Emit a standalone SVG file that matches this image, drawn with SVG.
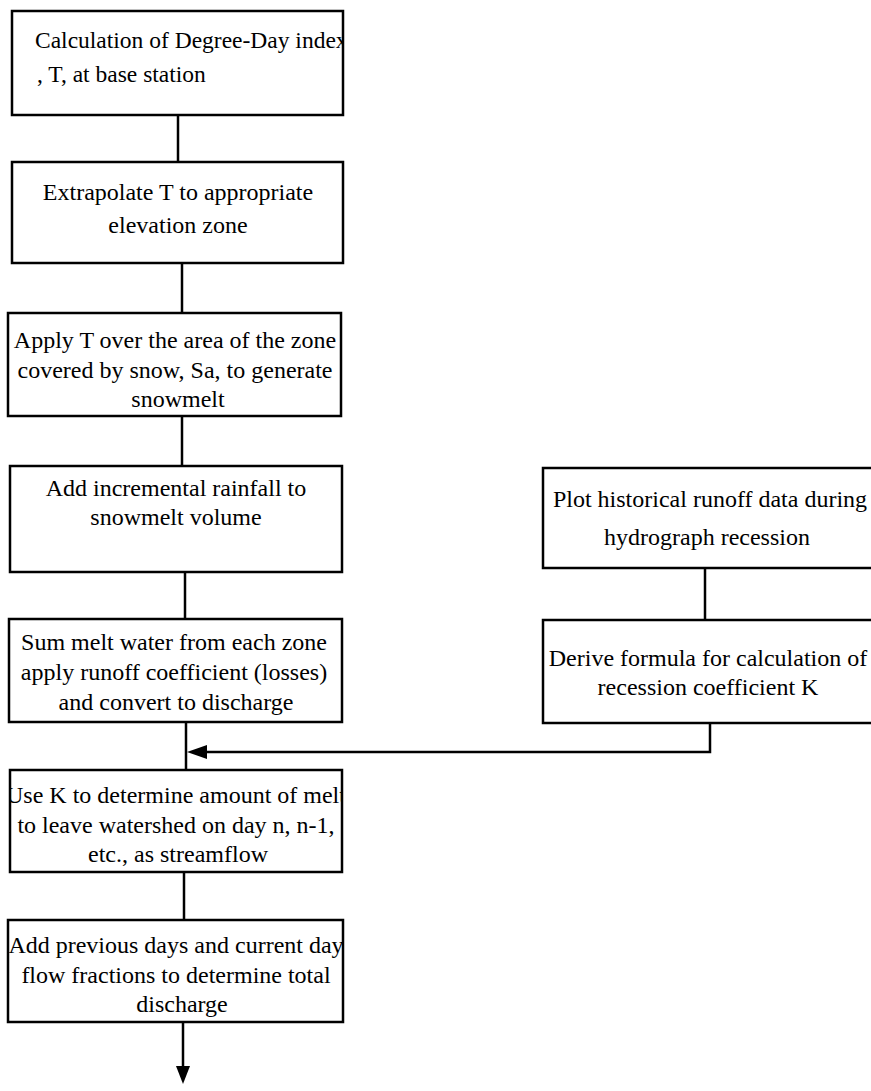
<svg xmlns="http://www.w3.org/2000/svg" width="871" height="1091" viewBox="0 0 871 1091">
<style>
.box{fill:#fff;stroke:#000;stroke-width:2.5}
.t{font-family:"Liberation Serif","Times New Roman",serif;font-size:24px;fill:#000}
.s{font-size:23.5px}
.c{text-anchor:middle}
.ln{fill:none;stroke:#000;stroke-width:2.5}
</style>
<defs>
<clipPath id="c1"><rect x="13" y="12" width="329" height="102"/></clipPath>
<clipPath id="c6"><rect x="11" y="771" width="331" height="100"/></clipPath>
<clipPath id="c7"><rect x="9" y="921" width="333" height="100"/></clipPath>
<clipPath id="cr1"><rect x="544" y="469" width="327" height="98"/></clipPath>
<clipPath id="cr2"><rect x="544" y="621" width="327" height="101"/></clipPath>
</defs>
<rect width="871" height="1091" fill="#fff"/>
<g id="connectors">
<line class="ln" x1="178" y1="115" x2="178" y2="162"/>
<line class="ln" x1="182" y1="263" x2="182" y2="313"/>
<line class="ln" x1="182" y1="416" x2="182" y2="466"/>
<line class="ln" x1="185" y1="572" x2="185" y2="619"/>
<line class="ln" x1="186" y1="722" x2="186" y2="770"/>
<line class="ln" x1="184" y1="872" x2="184" y2="920"/>
<line class="ln" x1="183" y1="1022" x2="183" y2="1068"/>
<polygon points="176,1066 190,1066 183,1084" fill="#000"/>
<line class="ln" x1="705" y1="568" x2="705" y2="620"/>
<polyline class="ln" points="710,723 710,752 200,752"/>
<polygon points="187,752 207,745 207,759" fill="#000"/>
</g>
<g id="n1">
<rect class="box" x="12" y="11" width="331" height="104"/>
<g clip-path="url(#c1)">
<text class="t s" x="35" y="48">Calculation of Degree-Day index</text>
<text class="t s" x="37" y="82">, T, at base station</text>
</g>
</g>
<g id="n2">
<rect class="box" x="12" y="162" width="331" height="101"/>
<text class="t c" x="178" y="200">Extrapolate T to appropriate</text>
<text class="t c" x="178" y="233">elevation zone</text>
</g>
<g id="n3">
<rect class="box" x="8" y="313" width="333" height="103"/>
<text class="t c" x="175" y="348">Apply T over the area of the zone</text>
<text class="t c" x="175" y="378">covered by snow, Sa, to generate</text>
<text class="t c" x="178" y="407">snowmelt</text>
</g>
<g id="n4">
<rect class="box" x="10" y="466" width="332" height="106"/>
<text class="t c" x="176" y="496">Add incremental rainfall to</text>
<text class="t c" x="176" y="525">snowmelt volume</text>
</g>
<g id="n5">
<rect class="box" x="9" y="619" width="333" height="103"/>
<text class="t c" x="174" y="650">Sum melt water from each zone</text>
<text class="t c" x="174" y="680">apply runoff coefficient (losses)</text>
<text class="t c" x="176" y="710">and convert to discharge</text>
</g>
<g id="n6">
<rect class="box" x="10" y="770" width="332" height="102"/>
<g clip-path="url(#c6)">
<text class="t c" x="176" y="803">Use K to determine amount of melt</text>
<text class="t c" x="176" y="833">to leave watershed on day n, n-1,</text>
<text class="t c" x="178" y="862">etc., as streamflow</text>
</g>
</g>
<g id="n7">
<rect class="box" x="8" y="920" width="335" height="102"/>
<g clip-path="url(#c7)">
<text class="t c" x="176" y="953">Add previous days and current day</text>
<text class="t c" x="176" y="983">flow fractions to determine total</text>
<text class="t c" x="182" y="1012">discharge</text>
</g>
</g>
<g id="r1">
<rect class="box" x="543" y="468" width="335" height="100"/>
<g clip-path="url(#cr1)">
<text class="t c" x="710" y="507">Plot historical runoff data during</text>
<text class="t c" x="707" y="545">hydrograph recession</text>
</g>
</g>
<g id="r2">
<rect class="box" x="543" y="620" width="335" height="103"/>
<g clip-path="url(#cr2)">
<text class="t c" x="708" y="666">Derive formula for calculation of</text>
<text class="t c" x="708" y="695">recession coefficient K</text>
</g>
</g>
</svg>
